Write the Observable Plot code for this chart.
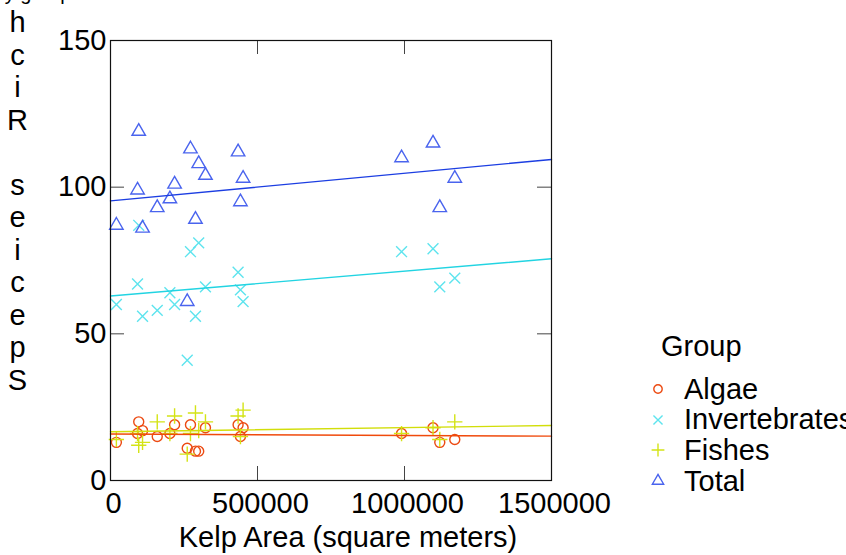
<!DOCTYPE html>
<html>
<head>
<meta charset="utf-8">
<script src="https://cdn.jsdelivr.net/npm/d3@7"></script>
<script src="https://cdn.jsdelivr.net/npm/@observablehq/plot@0.6"></script>
<style>
  html, body { margin: 0; padding: 0; background: #fff; overflow: hidden; }
  #wrap { position: relative; width: 846px; height: 555px; overflow: hidden;
          font-family: "Liberation Sans", Arial, sans-serif; }
  #wrap svg.plot-main { position: absolute; left: 0; top: 0; }
  .legend-title { position: absolute; font-size: 29px; line-height: 30px; color: #000; }
  .legend-row { position: absolute; height: 30px; display: flex; align-items: center;
                font-size: 29px; color: #000; white-space: nowrap; }
  .legend-row svg { display: block; }
</style>
</head>
<body>
<div id="wrap"></div>
<script>
// Kelp forest survey sites: kelp area and species richness per group
const kelpArea = [20000, 92000, 96000, 109000, 159000, 202000, 218000, 261000, 272000, 289000,
                  300000, 323000, 434000, 442000, 451000, 990000, 1097000, 1120000, 1171000];
const algae =         [13, 16, 20, 17, 15, 16, 19, 11, 19, 10, 10, 18, 19, 15, 18, 16, 18, 13, 14];
const invertebrates = [60, 67, 87, 56, 58, 64, 60, 41, 78, 56, 81, 66, 71, 65, 61, 78, 79, 66, 69];
const fishes =        [14, 16, 12, 13, 20, 16, 22,  9, 16, 23, 17, 20, 22, 15, 24, 16, 18, 14, 20];
const total =         [87, 99, 119, 86, 93, 96, 101, 61, 113, 89, 108, 104, 112, 95, 103, 110, 115, 93, 103];

const groups = ["Algae", "Invertebrates", "Fishes", "Total"];
const groupValues = [algae, invertebrates, fishes, total];
const symbols = ["circle", "times", "plus", "triangle"];
const pointColors = ["#ec4a12", "#5ee4ee", "#d4e416", "#4a64ee"];
const lineColors = ["#f04a0c", "#22d4e2", "#d2de0a", "#1c3ee2"];

const xTicks = [0, 500000, 1000000, 1500000];
const yTicks = [0, 50, 100, 150];
const xDomain = [0, 1500000];
const yDomain = [0, 150];

const xLabel = "Kelp Area (square meters)";
const yLabel = "Species Richness";
const title = "Species Richness by group";

// long-format rows for the scatter
const rows = groups.flatMap((g, gi) =>
  kelpArea.map((x, i) => ({group: g, area: x, richness: groupValues[gi][i]})));

// least-squares fit per group, evaluated across the x domain
function fitLine(ys) {
  const mx = d3.mean(kelpArea), my = d3.mean(ys);
  const b = d3.sum(kelpArea, (x, i) => (x - mx) * (ys[i] - my)) /
            d3.sum(kelpArea, x => (x - mx) ** 2);
  const a = my - b * mx;
  return xDomain.map(x => ({area: x, richness: a + b * x}));
}

const W = 846, H = 555;
const mLeft = 110, mTop = 40, mRight = W - 551, mBottom = H - 480;
const frameW = W - mLeft - mRight, frameH = H - mTop - mBottom;
const tickLen = 14;
const fontPx = 29;

const chart = Plot.plot({
  width: W,
  height: H,
  marginLeft: mLeft,
  marginRight: mRight,
  marginTop: mTop,
  marginBottom: mBottom,
  className: "plot-main",
  style: {fontFamily: '"Liberation Sans", Arial, sans-serif', fontSize: fontPx + "px",
          background: "white", overflow: "hidden", color: "#000"},
  x: {domain: xDomain},
  y: {domain: yDomain},
  symbol: {domain: groups, range: symbols},
  color: {domain: groups, range: pointColors},
  marks: [
    // inward ticks on all four sides
    Plot.tickX(xTicks, {x: d => d, insetTop: frameH - tickLen, stroke: "#444"}),
    Plot.tickX(xTicks, {x: d => d, insetBottom: frameH - tickLen, stroke: "#444"}),
    Plot.tickY(yTicks, {y: d => d, insetRight: frameW - tickLen, stroke: "#444"}),
    Plot.tickY(yTicks, {y: d => d, insetLeft: frameW - tickLen, stroke: "#444"}),
    Plot.axisX({ticks: xTicks, tickSize: 0, tickPadding: 12, tickFormat: d3.format("d"),
                label: null, dx: 3, fontSize: fontPx}),
    Plot.axisY({ticks: yTicks, tickSize: 0, tickPadding: 4, tickFormat: d3.format("d"),
                label: null, fontSize: fontPx}),
    Plot.dot(rows, {x: "area", y: "richness", symbol: "group", stroke: "group",
                    r: 5, strokeWidth: 1.4, fill: "none"}),
    ...groupValues.map((vals, gi) =>
      Plot.line(fitLine(vals), {x: "area", y: "richness", stroke: lineColors[gi], strokeWidth: 1.4})),
    Plot.frame({stroke: "#111", strokeWidth: 1.2}),
    // axis titles
    Plot.text([xLabel], {frameAnchor: "bottom", text: d => d, lineAnchor: "bottom",
                         dx: 17, dy: 66, fontSize: fontPx, fill: "#000"}),
    Plot.text([yLabel], {frameAnchor: "bottom-left", text: d => d.split("").reverse().join("\n"),
                         lineAnchor: "bottom", lineHeight: 1.12, textAnchor: "middle",
                         dx: -93, dy: -91, fontSize: fontPx, fill: "#000"}),
    Plot.text([title], {frameAnchor: "top-left", text: d => d, textAnchor: "end", lineAnchor: "bottom",
                        dx: -39, dy: -41, fontSize: 20, fill: "#000"})
  ]
});

const wrap = document.getElementById("wrap");
wrap.appendChild(chart);

// legend: group symbols with their colours
const legendX = 648, legendTitleTop = 331, rowTop0 = 374, rowStep = 30.7;
const t = document.createElement("div");
t.className = "legend-title";
t.style.left = (legendX + 13) + "px";
t.style.top = legendTitleTop + "px";
t.textContent = "Group";
wrap.appendChild(t);

const d3Symbols = {circle: d3.symbolCircle, times: d3.symbolTimes, plus: d3.symbolPlus, triangle: d3.symbolTriangle};
groups.forEach((g, i) => {
  const row = document.createElement("div");
  row.className = "legend-row";
  row.style.left = legendX + "px";
  row.style.top = (rowTop0 + i * rowStep) + "px";
  const svg = d3.create("svg").attr("width", 22).attr("height", 30);
  svg.append("path")
    .attr("transform", "translate(10,15)")
    .attr("d", d3.symbol(d3Symbols[symbols[i]], Math.PI * 4.2 * 4.2)())
    .attr("fill", "none")
    .attr("stroke", pointColors[i])
    .attr("stroke-width", 1.4);
  row.appendChild(svg.node());
  const label = document.createElement("span");
  label.style.marginLeft = "14px";
  label.textContent = g;
  row.appendChild(label);
  wrap.appendChild(row);
});
</script>
</body>
</html>
